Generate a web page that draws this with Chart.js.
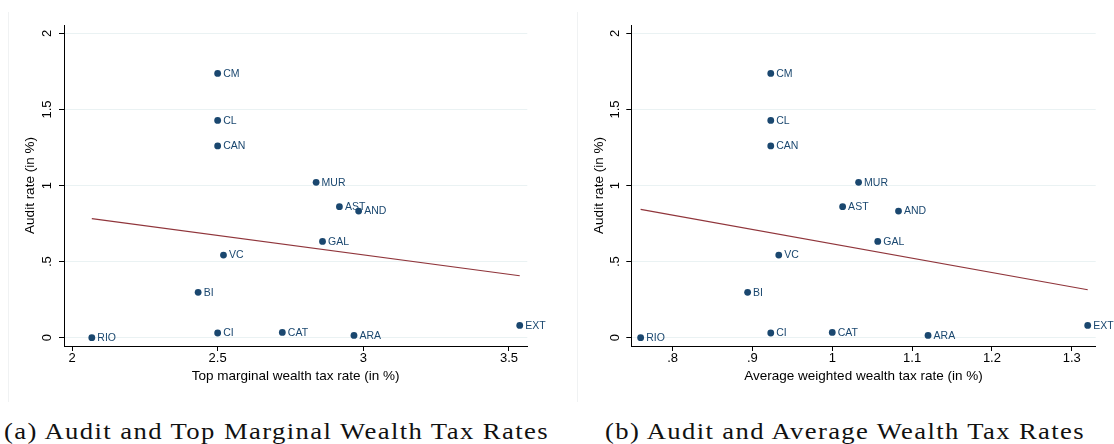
<!DOCTYPE html>
<html>
<head>
<meta charset="utf-8">
<script src="https://cdn.jsdelivr.net/npm/chart.js@4.4.1/dist/chart.umd.min.js"></script>
<style>
    body { margin: 0; background: #fff; width: 1114px; height: 444px; overflow: hidden; position: relative; }
    .edge { position: absolute; top: 12px; height: 390px; width: 1px; background: #f0f2f3; }
    canvas { position: absolute; top: 0; }
    #topChart { left: 0; }
    #avgChart { left: 556px; }
    .caption { position: absolute; top: 419px; font-family: "Liberation Serif", serif; font-size: 24px;
               line-height: 24px; white-space: nowrap; color: #111; transform-origin: 0 0; }
</style>
</head>
<body>
<div class="edge" style="left:8px"></div>
<div class="edge" style="left:577px"></div>
<canvas id="topChart" width="556" height="400"></canvas>
<canvas id="avgChart" width="558" height="400"></canvas>
<div class="caption" id="capA" data-left="4" data-width="545">(a) Audit and Top Marginal Wealth Tax Rates</div>
<div class="caption" id="capB" data-left="605" data-width="480">(b) Audit and Average Wealth Tax Rates</div>

<script>
// Regions (Spanish autonomous communities) and their values
const regions = ["CM", "CL", "CAN", "MUR", "AST", "AND", "GAL", "VC", "BI", "CI", "CAT", "ARA", "RIO", "EXT"];
const auditRate = [1.737, 1.428, 1.260, 1.021, 0.861, 0.832, 0.633, 0.543, 0.298, 0.031, 0.035, 0.015, 0.0, 0.081];
const topMarginalRate = [2.5, 2.5, 2.5, 2.838, 2.918, 2.984, 2.860, 2.520, 2.433, 2.5, 2.722, 2.968, 2.068, 3.537];
const avgWeightedRate = [0.923, 0.923, 0.923, 1.033, 1.013, 1.083, 1.057, 0.933, 0.894, 0.923, 1.0, 1.120, 0.760, 1.320];

// Fitted lines (end points)
const fitTopX = [2.068, 3.537];
const fitTopY = [0.782, 0.407];
const fitAvgX = [0.760, 1.320];
const fitAvgY = [0.843, 0.315];

// Ticks
const yTicks = [0, 0.5, 1, 1.5, 2];
const yTickLabels = ["0", ".5", "1", "1.5", "2"];
const topTicks = [2, 2.5, 3, 3.5];
const topTickLabels = ["2", "2.5", "3", "3.5"];
const avgTicks = [0.8, 0.9, 1, 1.1, 1.2, 1.3];
const avgTickLabels = [".8", ".9", "1", "1.1", "1.2", "1.3"];

const NAVY = "#1a476f";
const MAROON = "#90353b";
const GRID = "rgb(234,242,243)";

Chart.defaults.font.family = '"Liberation Sans", Arial, sans-serif';
Chart.defaults.color = "#000";

// ===============================
// Marker labels, drawn right of each dot (under the dots)
// ===============================
const pointLabels = {
    id: "pointLabels",
    beforeDatasetsDraw(chart) {
        const ctx = chart.ctx;
        const meta = chart.getDatasetMeta(0);
        ctx.save();
        ctx.font = '10.5px "Liberation Sans", Arial, sans-serif';
        ctx.fillStyle = NAVY;
        ctx.textAlign = "left";
        ctx.textBaseline = "middle";
        meta.data.forEach((pt, i) => {
            ctx.fillText(regions[i], pt.x + 5.5, pt.y + 0.5);
        });
        ctx.restore();
    }
};

function buildChart(canvasId, xValues, fitX, fitY, xTicks, xTickLabels, opts) {
    return new Chart(document.getElementById(canvasId), {
        type: "scatter",
        data: {
            datasets: [{
                data: xValues.map((x, i) => ({ x: x, y: auditRate[i] })),
                backgroundColor: NAVY,
                borderWidth: 0,
                pointRadius: 3.4,
                pointHoverRadius: 3.4,
                clip: false
            }, {
                type: "line",
                data: fitX.map((x, i) => ({ x: x, y: fitY[i] })),
                borderColor: MAROON,
                borderWidth: 1.2,
                pointRadius: 0,
                fill: false
            }]
        },
        options: {
            responsive: false,
            animation: false,
            events: [],
            layout: { padding: { top: 25, right: opts.padRight, bottom: 0, left: 0 } },
            plugins: { legend: { display: false }, tooltip: { enabled: false } },
            scales: {
                x: {
                    type: "linear",
                    min: opts.xMin,
                    max: opts.xMax,
                    afterBuildTicks: s => { s.ticks = xTicks.map(v => ({ value: v })); },
                    afterFit: s => { s.height = 54; },
                    ticks: {
                        callback: (v, i) => xTickLabels[i],
                        font: { size: 13, lineHeight: 1 },
                        padding: 1,
                        maxRotation: 0,
                        autoSkip: false,
                        color: "#000"
                    },
                    grid: { drawOnChartArea: false, tickLength: 5, tickColor: "#000", tickWidth: 1 },
                    border: { color: "#000", width: 1 },
                    title: {
                        display: true,
                        text: opts.xTitle,
                        font: { size: 13.5 },
                        padding: { top: 0, bottom: 16 },
                        color: "#000"
                    }
                },
                y: {
                    type: "linear",
                    min: -0.0545,
                    max: 2.055,
                    afterBuildTicks: s => { s.ticks = yTicks.map(v => ({ value: v })); },
                    afterFit: s => { s.width = opts.yWidth; },
                    ticks: {
                        callback: (v, i) => yTickLabels[i],
                        font: { size: 13, lineHeight: 1 },
                        minRotation: 90,
                        maxRotation: 90,
                        crossAlign: "center",
                        padding: opts.yPad,
                        autoSkip: false,
                        color: "#000"
                    },
                    grid: { color: GRID, lineWidth: 1, tickLength: 5, tickColor: "#000", tickWidth: 1 },
                    border: { color: "#000", width: 1 },
                    title: {
                        display: true,
                        text: "Audit rate (in %)",
                        font: { size: 13.5 },
                        padding: { top: opts.yTitlePad, bottom: 0 },
                        color: "#000"
                    }
                }
            }
        },
        plugins: [pointLabels]
    });
}

buildChart("topChart", topMarginalRate, fitTopX, fitTopY, topTicks, topTickLabels, {
    xMin: 1.9725, xMax: 3.563, padRight: 28.7, yWidth: 64, yPad: 3, yTitlePad: 22,
    xTitle: "Top marginal wealth tax rate (in %)"
});

buildChart("avgChart", avgWeightedRate, fitAvgX, fitAvgY, avgTicks, avgTickLabels, {
    xMin: 0.7483, xMax: 1.330, padRight: 18.3, yWidth: 75.3, yPad: 2.3, yTitlePad: 35,
    xTitle: "Average weighted wealth tax rate (in %)"
});

// Sub-figure captions: half of the missing width as letter spacing, the rest as a stretch
document.querySelectorAll(".caption").forEach(el => {
    el.style.left = el.dataset.left + "px";
    const target = +el.dataset.width;
    const n = el.textContent.length;
    let w = el.getBoundingClientRect().width;
    el.style.letterSpacing = ((target - w) / 2 / n).toFixed(3) + "px";
    w = el.getBoundingClientRect().width;
    el.style.transform = `scaleX(${(target / w).toFixed(4)})`;
});
</script>
</body>
</html>
